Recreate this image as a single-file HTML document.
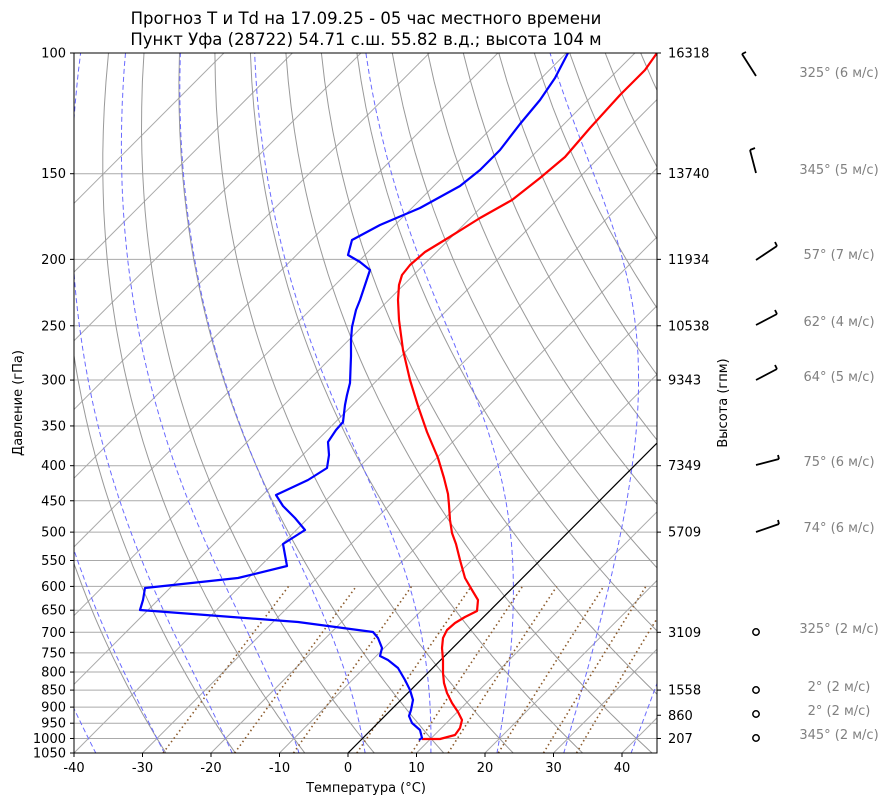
<!DOCTYPE html>
<html><head><meta charset="utf-8">
<style>
html,body{margin:0;padding:0;background:#fff;}
svg{display:block;font-family:"DejaVu Sans","Liberation Sans",sans-serif;}
</style></head>
<body>
<svg id="s" width="891" height="806" viewBox="0 0 891 806" xmlns="http://www.w3.org/2000/svg">
<defs><clipPath id="c"><rect x="74" y="53" width="583" height="700"/></clipPath></defs>
<rect width="891" height="806" fill="#fff"/>
<g id="bg" clip-path="url(#c)"></g>
<g clip-path="url(#c)">
<polyline fill="none" stroke="#f00" stroke-width="2.2" stroke-linejoin="round" points="422,739 440,739 455,735 460,728 462,720 458,712 452,703 447,693 444,683 443,673 443,660 442,648 443,638 447,630 455,623 465,617 477,611 478,600 472,590 465,578 460,560 456,544 452,533 450,520 449,505 448,494 444,478 438,458 427,432 418,406 410,380 403,350 399,320 398,300 399,285 402,275 410,265 425,252 448,238 480,218 512,200 540,178 565,157 590,128 620,95 645,70 657,53"/>
<polyline fill="none" stroke="#00f" stroke-width="2.2" stroke-linejoin="round" points="419,740 422,738 420,730 412,723 409,716 411,710 413,700 410,690 405,680 398,668 388,660 380,656 382,648 378,638 373,632 298,622 140,610 143,600 145,588 238,578 287,566 285,555 283,544 305,530 295,518 283,506 276,495 308,480 327,468 329,455 328,442 336,430 343,422 345,405 347,395 350,383 351,356 351,340 352,327 356,310 360,300 365,285 370,270 360,262 348,255 352,240 380,225 420,208 460,186 480,170 500,150 520,124 540,100 555,78 568,53"/>
</g>
<rect x="74" y="53" width="583" height="700" fill="none" stroke="#000" stroke-width="1"/>
<g id="ax" font-size="13" fill="#000"></g>
<text x="366" y="24" font-size="16.5" text-anchor="middle">Прогноз T и Td на 17.09.25 - 05 час местного времени</text>
<text x="366" y="45" font-size="16.5" text-anchor="middle">Пункт Уфа (28722) 54.71 с.ш. 55.82 в.д.; высота 104 м</text>
<text x="366" y="792" font-size="13" text-anchor="middle">Температура (°C)</text>
<text transform="translate(22,403) rotate(-90)" font-size="13" text-anchor="middle">Давление (гПа)</text>
<text transform="translate(727,403) rotate(-90)" font-size="13" text-anchor="middle">Высота (гпм)</text>
<g stroke="#000" stroke-width="1.8" fill="none">
<path d="M742,54 L756,76 M742,54 l4,-2"/>
<path d="M750,150 L756,173 M750,150 l5,-2"/>
<path d="M756,260 L777,246 M777,246 l-2,-4"/>
<path d="M756,325 L777,314 M777,314 l-2,-4"/>
<path d="M756,380 L777,369 M777,369 l-2,-4"/>
<path d="M756,465 L779,459 M779,459 l-1,-4"/>
<path d="M756,532 L779,524 M779,524 l-1,-4"/>
<circle cx="756" cy="632" r="3.2" stroke-width="1.5"/>
<circle cx="756" cy="690" r="3.2" stroke-width="1.5"/>
<circle cx="756" cy="714" r="3.2" stroke-width="1.5"/>
<circle cx="756" cy="738" r="3.2" stroke-width="1.5"/>
</g>
<g font-size="13" fill="#808080" text-anchor="middle">
<text x="839" y="77">325° (6 м/с)</text>
<text x="839" y="174">345° (5 м/с)</text>
<text x="839" y="259">57° (7 м/с)</text>
<text x="839" y="326">62° (4 м/с)</text>
<text x="839" y="381">64° (5 м/с)</text>
<text x="839" y="466">75° (6 м/с)</text>
<text x="839" y="532">74° (6 м/с)</text>
<text x="839" y="633">325° (2 м/с)</text>
<text x="839" y="691">2° (2 м/с)</text>
<text x="839" y="715">2° (2 м/с)</text>
<text x="839" y="739">345° (2 м/с)</text>
</g>
<script>
(function(){
var NS="http://www.w3.org/2000/svg";
var bg=document.getElementById("bg"),ax=document.getElementById("ax");
var L=Math.log(10.5);
function Y(p){return 53+Math.log(p/100)/L*700;}
function X(T,p){return 348+6.85*T+(753-Y(p))*0.997;}
function el(par,tag,a){var e=document.createElementNS(NS,tag);for(var k in a)e.setAttribute(k,a[k]);par.appendChild(e);return e;}
function path(pts,st){var d="";pts.forEach(function(q,i){d+=(i?"L":"M")+q[0].toFixed(1)+","+q[1].toFixed(1);});st.d=d;st.fill="none";el(bg,"path",st);}
var pr=[100,150,200,250,300,350,400,450,500,550,600,650,700,750,800,850,900,950,1000,1050];
pr.forEach(function(p){var y=Y(p);el(bg,"line",{x1:74,x2:657,y1:y,y2:y,stroke:"#aaa","stroke-width":1});
 var t=el(ax,"text",{x:66,y:y+4.5,"text-anchor":"end"});t.textContent=p;
 el(ax,"line",{x1:70,x2:74,y1:y,y2:y,stroke:"#000"});});
for(var T=-40;T<=40;T+=10){var x=348+6.85*T;var t=el(ax,"text",{x:x,y:772,"text-anchor":"middle"});t.textContent=T;el(ax,"line",{x1:x,x2:x,y1:753,y2:757,stroke:"#000"});}
var hs=[[100,"16318"],[150,"13740"],[200,"11934"],[250,"10538"],[300,"9343"],[400,"7349"],[500,"5709"],[700,"3109"],[850,"1558"],[925,"860"],[1000,"207"]];
hs.forEach(function(h){var y=Y(h[0]);var t=el(ax,"text",{x:668,y:y+4.5});t.textContent=h[1];el(ax,"line",{x1:657,x2:661,y1:y,y2:y,stroke:"#000"});});
for(var T=-120;T<=50;T+=10){path([[X(T,1050),Y(1050)],[X(T,100),Y(100)]],{stroke:"#aaa","stroke-width":1});}
for(var th=-30;th<=200;th+=10){var pts=[];for(var p=1050;p>=100;p-=10){pts.push([X((th+273.15)*Math.pow(p/1000,0.2857)-273.15,p),Y(p)]);}path(pts,{stroke:"#999","stroke-width":1});}
function es(T){return 6.112*Math.exp(17.67*T/(T+243.5));}
function dTdp(T,p){var Tk=T+273.15,e=es(T),rs=0.622*e/(p-e);var Rd=287.04,Cp=1005.7,Lv=2.501e6,eps=0.622;return (1/p)*(Rd*Tk+Lv*rs)/(Cp+Lv*Lv*rs*eps/(Rd*Tk*Tk));}
for(var t0=-40;t0<=40;t0+=10){var pts=[],T=t0,p=1000;while(p>=100){pts.push([X(T,p),Y(p)]);var h=-2;var k1=dTdp(T,p),k2=dTdp(T+h/2*k1,p+h/2);T+=h*k2;p+=h;}
 var T2=t0,pts2=[];for(var p2=1000;p2<=1052;p2+=2){pts2.unshift([X(T2,p2),Y(p2)]);var k1=dTdp(T2,p2),k2=dTdp(T2+1*k1,p2+1);T2+=2*k2;}
 path(pts2.concat(pts),{stroke:"#6a6aff","stroke-width":1,"stroke-dasharray":"5,3"});}
[0.0004,0.001,0.002,0.004,0.007,0.01,0.016,0.024,0.032].forEach(function(w){var pts=[];for(var p=1050;p>=600;p-=10){var e=w*p/(0.622+w),l=Math.log(e/6.112),T=243.5*l/(17.67-l);pts.push([X(T,p),Y(p)]);}path(pts,{stroke:"#8b5a2b","stroke-width":1.6,"stroke-dasharray":"1.5,3"});});
path([[X(0,1050),Y(1050)],[X(0,100),Y(100)]],{stroke:"#000","stroke-width":1.2});
})();
</script>
</svg>
</body></html>
